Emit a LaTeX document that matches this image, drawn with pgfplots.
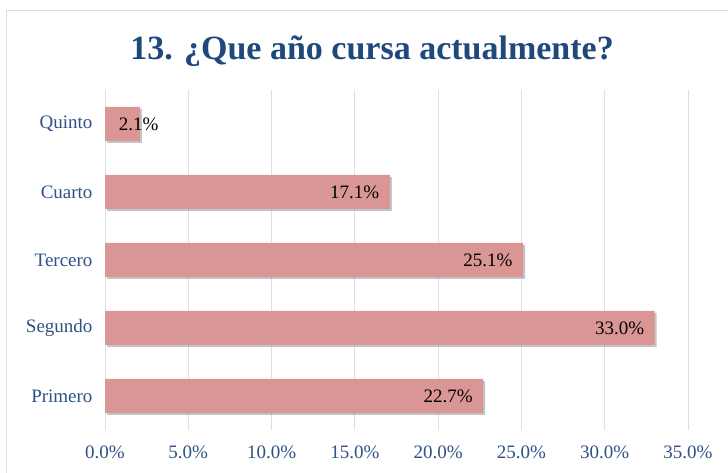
\documentclass[border=0pt]{standalone}
\usepackage{pgfplots}
\pgfplotsset{compat=1.18}
\usepackage{fontspec}
\setmainfont{Liberation Serif}
\usetikzlibrary{shadows}
\definecolor{titleblue}{HTML}{1F497D}
\definecolor{tickblue}{HTML}{2E5287}
\definecolor{barpink}{HTML}{D99694}
\definecolor{gridblue}{HTML}{D6E2F0}
\definecolor{frameblue}{HTML}{D5E0EE}
\begin{document}
\begin{tikzpicture}[x=1pt,y=1pt]
\useasboundingbox (0,0) rectangle (728,473);
\fill[white] (0,0) rectangle (728,473);
\draw[frameblue, line width=1pt] (6,-5) rectangle (740,462);
\begin{axis}[
  at={(105pt,43pt)}, anchor=south west,
  scale only axis, width=583pt, height=340pt,
  xbar, bar width=34pt, bar shift=0pt,
  xmin=0, xmax=35, ymin=-0.5, ymax=4.5,
  xtick={0,5,...,35},
  ytick={0,1,2,3,4},
  yticklabels={Primero,Segundo,Tercero,Cuarto,Quinto},
  axis line style={draw=none},
  major tick length=0pt,
  xmajorgrids, ymajorgrids=false,
  grid style={gridblue, line width=1pt},
  /pgf/number format/assume math mode=true,
  xticklabel={\pgfmathprintnumber[fixed,fixed zerofill,precision=1]{\tick}\%},
  ticklabel style={font=\fontsize{19}{22}\selectfont, text=tickblue},
  yticklabel style={xshift=-9pt},
  xticklabel style={yshift=-12pt},
  title={\textbf{13. ¿Que año cursa actualmente?}},
  title style={at={(axis description cs:0.458,1.098)}, anchor=center, font=\fontsize{34}{40}\selectfont, text=titleblue},
  nodes near coords={\pgfmathprintnumber[fixed,fixed zerofill,precision=1]{\pgfplotspointmeta}\%},
  nodes near coords style={font=\fontsize{19}{22}\selectfont, text=black, anchor=east, xshift=-7pt},
  coordinate style/.condition={x<5}{xshift=29pt},
]
\addplot[fill=barpink, draw=none, drop shadow={shadow xshift=2pt, shadow yshift=-2pt, opacity=0.45}] coordinates {
  (22.7,0) (33.0,1) (25.1,2) (17.1,3) (2.1,4)
};
\end{axis}
\end{tikzpicture}
\end{document}
